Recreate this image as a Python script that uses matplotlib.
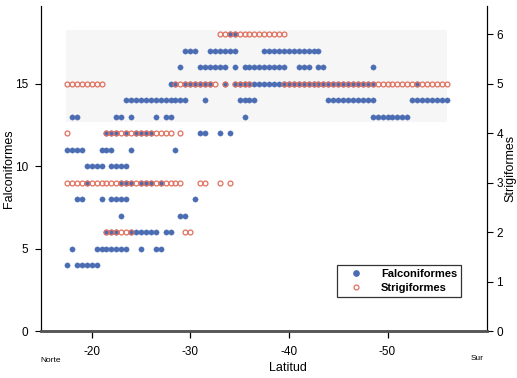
import matplotlib
matplotlib.use('Agg')
import matplotlib.pyplot as plt
from matplotlib.patches import Rectangle
from matplotlib.lines import Line2D

plt.rcParams['font.family'] = ['Liberation Sans', 'DejaVu Sans']

# ---------------- data (latitudes of points at each richness level) ----------------
# Falconiformes (left axis)
falc_18 = [-34.0, -34.5]
falc_17 = [-29.5, -30.0, -30.5, -32.0, -32.5, -33.0, -33.5, -34.0, -34.5,
           -37.5, -38.0, -38.5, -39.0, -39.5, -40.0, -40.5, -41.0, -41.5, -42.0, -42.5, -43.0]
falc_16 = [-29.0, -31.0, -31.5, -32.0, -32.5, -33.0, -33.5, -34.5,
           -35.5, -36.0, -36.5, -37.0, -37.5, -38.0, -38.5, -39.0, -39.5,
           -41.0, -41.5, -42.0, -43.0, -43.5, -48.5]
falc_15 = [-28.0, -28.5, -29.5, -30.0, -30.5, -31.0, -31.5, -32.0, -33.5,
           -34.5, -35.0, -35.5, -36.0, -36.5, -37.0, -37.5, -38.0, -38.5, -39.0,
           -39.5, -40.0, -40.5, -41.0, -41.5, -42.0, -42.5, -43.0, -43.5, -44.0,
           -44.5, -45.0, -45.5, -46.0, -46.5, -47.0, -47.5, -48.0, -48.5, -53.0]
falc_14 = [-23.5, -24.0, -24.5, -25.0, -25.5, -26.0, -26.5, -27.0, -27.5, -28.0,
           -28.5, -29.0, -29.5, -31.5, -35.0, -35.5, -36.0, -36.5,
           -44.0, -44.5, -45.0, -45.5, -46.0, -46.5, -47.0, -47.5, -48.0, -48.5,
           -52.5, -53.0, -53.5, -54.0, -54.5, -55.0, -55.5, -56.0]
falc_13 = [-18.0, -18.5, -22.5, -23.0, -24.0, -26.5, -27.5, -28.0, -35.5,
           -48.5, -49.0, -49.5, -50.0, -50.5, -51.0, -51.5, -52.0]
falc_12 = [-21.5, -22.0, -22.5, -23.5, -24.5, -25.0, -25.5, -26.0,
           -31.0, -31.5, -33.0, -34.0]
falc_11 = [-17.5, -18.0, -18.5, -19.0, -21.0, -21.5, -22.0, -24.0, -28.5]
falc_10 = [-19.5, -20.0, -20.5, -21.0, -22.0, -22.5, -23.0, -23.5]
falc_9 = [-19.5, -23.0, -23.5, -24.0, -25.0, -25.5, -26.0, -27.0]
falc_8 = [-18.5, -19.0, -21.0, -22.0, -22.5, -23.0, -23.5, -30.5]
falc_7 = [-23.0, -29.0, -29.5]
falc_6 = [-21.5, -22.0, -22.5, -24.0, -24.5, -25.0, -25.5, -26.0, -26.5, -27.5, -28.0]
falc_5 = [-18.0, -20.5, -21.0, -21.5, -22.0, -22.5, -23.0, -23.5, -25.0, -26.5, -27.0]
falc_4 = [-17.5, -18.5, -19.0, -19.5, -20.0, -20.5]

# Strigiformes (right axis)
strig_6 = [-33.0, -33.5, -34.0, -34.5, -35.0, -35.5, -36.0, -36.5, -37.0, -37.5,
           -38.0, -38.5, -39.0, -39.5]
strig_5 = [-17.5, -18.0, -18.5, -19.0, -19.5, -20.0, -20.5, -21.0,
           -28.5, -29.0, -29.5, -30.0, -30.5, -31.0, -31.5, -32.0, -32.5, -33.5,
           -34.5, -35.0, -35.5, -36.0,
           -39.5, -40.0, -40.5, -41.0, -41.5, -42.0, -42.5, -43.0, -43.5, -44.0,
           -44.5, -45.0, -45.5, -46.0, -46.5, -47.0, -47.5, -48.0, -48.5, -49.0,
           -49.5, -50.0, -50.5, -51.0, -51.5, -52.0, -52.5, -53.0, -53.5, -54.0,
           -54.5, -55.0, -55.5, -56.0]
strig_4 = [-17.5, -21.5, -22.0, -22.5, -23.0, -23.5, -24.0, -24.5, -25.0, -25.5,
           -26.0, -26.5, -27.0, -27.5, -28.0, -29.0]
strig_3 = [-17.5, -18.0, -18.5, -19.0, -19.5, -20.0, -20.5, -21.0, -21.5, -22.0,
           -22.5, -23.0, -23.5, -24.0, -24.5, -25.0, -25.5, -26.0, -26.5, -27.0,
           -27.5, -28.0, -28.5, -29.0, -31.0, -31.5, -33.0, -34.0]
strig_2 = [-21.5, -22.0, -22.5, -23.0, -23.5, -24.0, -29.5, -30.0]

falc_levels = [(18, falc_18), (17, falc_17), (16, falc_16), (15, falc_15), (14, falc_14),
               (13, falc_13), (12, falc_12), (11, falc_11), (10, falc_10), (9, falc_9),
               (8, falc_8), (7, falc_7), (6, falc_6), (5, falc_5), (4, falc_4)]
strig_levels = [(6, strig_6), (5, strig_5), (4, strig_4), (3, strig_3), (2, strig_2)]

falc_lat = [la for v, lats in falc_levels for la in lats]
falc_n = [v for v, lats in falc_levels for la in lats]
strig_lat = [la for v, lats in strig_levels for la in lats]
strig_n = [v for v, lats in strig_levels for la in lats]

left_ticks = [0, 5, 10, 15]
right_ticks = [0, 1, 2, 3, 4, 5, 6]
x_ticks = [-20, -30, -40, -50]

BLUE = '#4a6cb3'
RED = '#e0705e'

# ---------------- figure ----------------
fig = plt.figure(figsize=(5.17, 3.78), dpi=100)
ax = fig.add_axes([0.0787, 0.1243, 0.8627, 0.8598])
ax2 = ax.twinx()

ax.add_patch(Rectangle((0.057, 0.643), 0.854, 0.283, transform=ax.transAxes,
                       facecolor='#f6f6f6', edgecolor='none', zorder=0))

ax.plot(falc_lat, falc_n, linestyle='none', marker='o', markersize=3.8,
        markerfacecolor=BLUE, markeredgecolor=BLUE, markeredgewidth=0.3, zorder=3)
ax2.plot(strig_lat, strig_n, linestyle='none', marker='o', markersize=3.5,
         markerfacecolor='none', markeredgecolor=RED, markeredgewidth=0.9, zorder=3)

ax.set_xlim(-14.83, -60.06)
ax.set_ylim(0, 19.7)
ax2.set_ylim(0, 19.7 / 3)

ax.set_xticks(x_ticks)
ax.set_xticklabels([str(t) for t in x_ticks])
ax.set_yticks(left_ticks)
ax2.set_yticks(right_ticks)

for a in (ax, ax2):
    a.spines['top'].set_visible(False)
    a.spines['left'].set_linewidth(0.8)
    a.spines['right'].set_linewidth(0.8)
    a.spines['bottom'].set_linewidth(1.8)
    a.spines['bottom'].set_color('#555555')

ax.tick_params(axis='x', direction='out', length=5, width=0.9, labelsize=8.5, pad=6)
ax.tick_params(axis='y', direction='out', length=4, width=0.8, labelsize=8.5, pad=5)
ax2.tick_params(axis='y', direction='out', length=4, width=0.8, labelsize=8.5, pad=3)

ax.set_ylabel('Falconiformes', fontsize=9)
ax.yaxis.set_label_coords(-0.0565, 0.5)
ax2.set_ylabel('Strigiformes', fontsize=9)
ax2.yaxis.set_label_coords(1.0395, 0.5)

fig.text(288 / 517, 1 - 368 / 378, 'Latitud', ha='center', va='center', fontsize=9)
fig.text(51 / 517, 1 - 361 / 378, 'Norte', ha='center', va='center', fontsize=6)
fig.text(477 / 517, 1 - 359 / 378, 'Sur', ha='center', va='center', fontsize=6)

handles = [Line2D([], [], linestyle='none', marker='o', markersize=3.8,
                  markerfacecolor=BLUE, markeredgecolor=BLUE),
           Line2D([], [], linestyle='none', marker='o', markersize=3.5,
                  markerfacecolor='none', markeredgecolor=RED, markeredgewidth=0.9)]
leg = ax2.legend(handles, ['Falconiformes', 'Strigiformes'],
                 loc='upper left', bbox_to_anchor=(337 / 517, 1 - 265 / 378),
                 bbox_transform=fig.transFigure, frameon=True, fancybox=False,
                 edgecolor='#333333', framealpha=1, borderpad=0.35, borderaxespad=0,
                 handlelength=2.8, handletextpad=0.8, labelspacing=0.4,
                 prop={'size': 8, 'weight': 'bold'})
leg.get_frame().set_linewidth(0.9)

fig.savefig('out.png', dpi=100)
